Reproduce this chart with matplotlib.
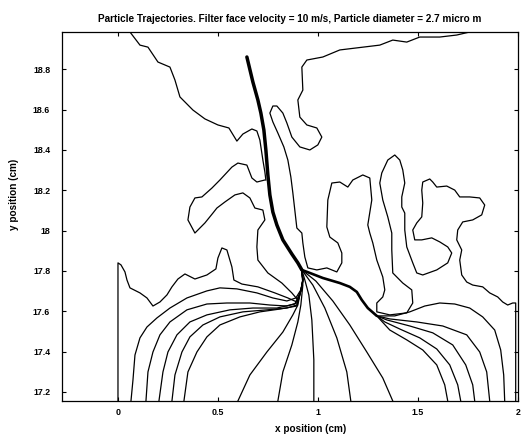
import matplotlib
matplotlib.use("Agg")
import matplotlib.pyplot as plt

plt.rcParams['font.family'] = ['Liberation Sans', 'DejaVu Sans']

# axis ticks
x_ticks = [0, 0.5, 1, 1.5, 2]
x_tick_labels = ['0', '0.5', '1', '1.5', '2']
y_ticks = [17.2, 17.4, 17.6, 17.8, 18.0, 18.2, 18.4, 18.6, 18.8]
y_tick_labels = ['17.2', '17.4', '17.6', '17.8', '18', '18.2', '18.4', '18.6', '18.8']

# fibre / flow contours (cm)
cont_left_x = [0.0, 0.0, 0.015, 0.035, 0.045, 0.06, 0.11, 0.145, 0.175, 0.21, 0.245, 0.27,
               0.30, 0.335, 0.385, 0.445, 0.49, 0.50, 0.52, 0.545, 0.57, 0.58, 0.62, 0.70,
               0.785, 0.85, 0.895]
cont_left_y = [17.155, 17.840, 17.830, 17.795, 17.755, 17.716, 17.691, 17.666, 17.626, 17.646,
               17.681, 17.721, 17.760, 17.785, 17.760, 17.780, 17.810, 17.864, 17.914, 17.904,
               17.820, 17.755, 17.735, 17.721, 17.691, 17.666, 17.646]

cont_top_x = [0.06, 0.11, 0.15, 0.20, 0.26, 0.285, 0.31, 0.375, 0.435, 0.50, 0.555, 0.595,
              0.625, 0.67, 0.695, 0.71, 0.725, 0.735, 0.74]
cont_top_y = [18.985, 18.920, 18.910, 18.836, 18.811, 18.747, 18.663, 18.598, 18.554, 18.524,
              18.509, 18.444, 18.479, 18.504, 18.494, 18.449, 18.350, 18.291, 18.251]

cont_mid_x = [0.735, 0.695, 0.67, 0.645, 0.60, 0.57, 0.51, 0.47, 0.42, 0.385, 0.36, 0.35,
              0.385, 0.435, 0.475, 0.495, 0.535, 0.585, 0.625, 0.66, 0.685, 0.725, 0.735,
              0.70, 0.695, 0.70, 0.75, 0.82, 0.87, 0.90]
cont_mid_y = [18.251, 18.241, 18.261, 18.325, 18.335, 18.315, 18.251, 18.211, 18.167, 18.162,
              18.117, 18.053, 17.988, 18.038, 18.087, 18.112, 18.142, 18.177, 18.187, 18.162,
              18.112, 18.102, 18.053, 18.003, 17.919, 17.854, 17.790, 17.740, 17.691, 17.656]

cont_right_x = [1.76, 1.695, 1.61, 1.51, 1.445, 1.375, 1.31, 1.225, 1.11, 1.025, 0.945, 0.92,
                0.925, 0.90, 0.91, 0.945, 0.995, 1.02, 1.00, 0.96, 0.91, 0.87, 0.845, 0.825,
                0.795, 0.775, 0.76, 0.775, 0.80, 0.83, 0.85, 0.865, 0.875, 0.885, 0.895, 0.92,
                0.925, 0.935, 0.95, 0.995, 1.045, 1.095, 1.12, 1.12, 1.10, 1.06, 1.045, 1.05,
                1.07, 1.11, 1.15, 1.175, 1.225, 1.26, 1.27, 1.25, 1.26, 1.275, 1.295, 1.325,
                1.335, 1.325, 1.295, 1.295, 1.36, 1.445, 1.475, 1.47, 1.425, 1.375, 1.37, 1.37,
                1.35, 1.325, 1.31, 1.32, 1.35, 1.385, 1.41, 1.425, 1.435, 1.42, 1.42, 1.435,
                1.435, 1.445, 1.475, 1.495, 1.525, 1.595, 1.65, 1.67, 1.65, 1.61, 1.57, 1.52,
                1.485, 1.475, 1.495, 1.52, 1.525, 1.52, 1.525, 1.56, 1.575, 1.595, 1.645, 1.685,
                1.71, 1.76, 1.81, 1.835, 1.82, 1.775, 1.725, 1.70, 1.695, 1.72, 1.71, 1.72,
                1.745, 1.775, 1.825, 1.86, 1.90, 1.925, 1.95, 1.975, 1.99, 1.99]
cont_right_y = [18.985, 18.970, 18.960, 18.960, 18.935, 18.945, 18.920, 18.910, 18.896, 18.861,
                18.846, 18.811, 18.697, 18.648, 18.563, 18.524, 18.509, 18.464, 18.425, 18.400,
                18.415, 18.464, 18.534, 18.583, 18.618, 18.618, 18.583, 18.539, 18.484, 18.415,
                18.350, 18.266, 18.187, 18.102, 18.013, 17.988, 17.939, 17.869, 17.815, 17.805,
                17.815, 17.795, 17.840, 17.889, 17.939, 17.968, 18.018, 18.152, 18.236, 18.241,
                18.216, 18.251, 18.276, 18.261, 18.152, 18.028, 17.988, 17.939, 17.854, 17.770,
                17.706, 17.671, 17.641, 17.597, 17.582, 17.592, 17.641, 17.706, 17.740, 17.790,
                17.904, 17.988, 18.068, 18.152, 18.236, 18.286, 18.350, 18.375, 18.350, 18.301,
                18.236, 18.167, 18.117, 18.087, 18.003, 17.919, 17.840, 17.790, 17.780, 17.805,
                17.840, 17.889, 17.919, 17.944, 17.964, 17.954, 17.954, 18.003, 18.038, 18.068,
                18.137, 18.201, 18.241, 18.256, 18.241, 18.216, 18.221, 18.201, 18.167, 18.167,
                18.162, 18.127, 18.078, 18.053, 18.043, 18.003, 17.954, 17.904, 17.854, 17.780,
                17.745, 17.730, 17.721, 17.691, 17.671, 17.646, 17.631, 17.641, 17.641, 17.155]

# particle trajectories: common stem, then branches
stem_x = [0.645, 0.675, 0.70, 0.715, 0.73, 0.74, 0.75, 0.76, 0.775, 0.795, 0.825, 0.87, 0.90, 0.92]
stem_y = [18.861, 18.737, 18.648, 18.583, 18.499, 18.400, 18.276, 18.177, 18.092, 18.028,
          17.954, 17.884, 17.840, 17.805]

bundle_x = [0.92, 0.96, 1.025, 1.11, 1.16, 1.195, 1.22, 1.25, 1.295]
bundle_y = [17.805, 17.790, 17.765, 17.740, 17.721, 17.696, 17.656, 17.616, 17.577]

left_x = [
    [0.92, 0.925, 0.915, 0.89, 0.845, 0.775, 0.695, 0.595, 0.51, 0.445, 0.345, 0.26, 0.195,
     0.145, 0.11, 0.085, 0.075, 0.065],
    [0.92, 0.925, 0.915, 0.895, 0.845, 0.76, 0.66, 0.545, 0.445, 0.345, 0.26, 0.21, 0.175,
     0.15, 0.14],
    [0.92, 0.925, 0.915, 0.885, 0.795, 0.675, 0.56, 0.445, 0.36, 0.295, 0.25, 0.225, 0.205],
    [0.92, 0.925, 0.915, 0.895, 0.845, 0.745, 0.625, 0.51, 0.425, 0.36, 0.32, 0.285, 0.27],
    [0.92, 0.925, 0.915, 0.895, 0.81, 0.71, 0.61, 0.51, 0.445, 0.395, 0.35, 0.33],
    [0.92, 0.925, 0.91, 0.90, 0.875, 0.825, 0.745, 0.66, 0.60],
    [0.92, 0.925, 0.915, 0.90, 0.87, 0.825, 0.80],
]
left_y = [
    [17.805, 17.755, 17.706, 17.666, 17.651, 17.666, 17.691, 17.711, 17.716, 17.701, 17.666,
     17.616, 17.567, 17.522, 17.468, 17.383, 17.259, 17.155],
    [17.805, 17.755, 17.701, 17.641, 17.626, 17.631, 17.641, 17.641, 17.636, 17.607, 17.547,
     17.483, 17.398, 17.299, 17.155],
    [17.805, 17.755, 17.701, 17.636, 17.616, 17.616, 17.607, 17.582, 17.547, 17.483, 17.398,
     17.299, 17.155],
    [17.805, 17.755, 17.701, 17.631, 17.616, 17.607, 17.597, 17.572, 17.532, 17.473, 17.398,
     17.284, 17.155],
    [17.805, 17.755, 17.701, 17.626, 17.611, 17.597, 17.572, 17.532, 17.473, 17.398, 17.299,
     17.155],
    [17.805, 17.745, 17.681, 17.631, 17.582, 17.497, 17.398, 17.284, 17.155],
    [17.805, 17.730, 17.631, 17.547, 17.433, 17.299, 17.155],
]

centre_x = [
    [0.92, 0.935, 0.955, 0.97, 0.98, 0.98],
    [0.92, 0.975, 1.035, 1.095, 1.145, 1.165],
    [0.92, 0.99, 1.075, 1.16, 1.245, 1.325, 1.375],
]
centre_y = [
    [17.805, 17.755, 17.681, 17.557, 17.359, 17.155],
    [17.805, 17.730, 17.616, 17.468, 17.299, 17.155],
    [17.805, 17.750, 17.651, 17.532, 17.398, 17.269, 17.155],
]

right_x = [
    [1.295, 1.36, 1.445, 1.525, 1.595, 1.635, 1.65],
    [1.295, 1.335, 1.41, 1.51, 1.595, 1.66, 1.70, 1.715],
    [1.295, 1.345, 1.46, 1.575, 1.675, 1.74, 1.775, 1.785],
    [1.295, 1.36, 1.495, 1.625, 1.745, 1.81, 1.845, 1.86],
    [1.295, 1.385, 1.46, 1.535, 1.61, 1.685, 1.76, 1.825, 1.885, 1.915, 1.93, 1.935],
]
right_y = [
    [17.577, 17.507, 17.458, 17.408, 17.334, 17.235, 17.155],
    [17.577, 17.547, 17.512, 17.468, 17.413, 17.334, 17.235, 17.155],
    [17.577, 17.557, 17.527, 17.493, 17.433, 17.334, 17.235, 17.155],
    [17.577, 17.562, 17.547, 17.527, 17.483, 17.398, 17.299, 17.155],
    [17.577, 17.577, 17.597, 17.626, 17.641, 17.636, 17.616, 17.572, 17.507, 17.408, 17.284,
     17.155],
]

fig = plt.figure(figsize=(5.26, 4.36), dpi=100)
ax = fig.add_axes([0.1179, 0.0803, 0.8663, 0.8463])

lw = 0.9
for cx, cy in [(cont_left_x, cont_left_y), (cont_top_x, cont_top_y),
               (cont_mid_x, cont_mid_y), (cont_right_x, cont_right_y)]:
    ax.plot(cx, cy, color='black', lw=lw)

for xs, ys in zip(left_x + centre_x + right_x, left_y + centre_y + right_y):
    ax.plot(xs, ys, color='black', lw=lw)

ax.plot(bundle_x, bundle_y, color='black', lw=1.9, solid_capstyle='round')
ax.plot(stem_x, stem_y, color='black', lw=2.5, solid_capstyle='round')

ax.set_xlim(-0.28, 2.0)
ax.set_ylim(17.155, 18.985)
ax.set_xticks(x_ticks)
ax.set_xticklabels(x_tick_labels)
ax.set_yticks(y_ticks)
ax.set_yticklabels(y_tick_labels)
ax.tick_params(axis='both', direction='in', length=3, width=0.8, labelsize=6.4,
               top=True, right=True)
ax.tick_params(axis='x', pad=5)
ax.tick_params(axis='y', pad=8.5)
for lab in ax.get_xticklabels() + ax.get_yticklabels():
    lab.set_fontweight('bold')
for s in ax.spines.values():
    s.set_linewidth(0.9)

ax.set_title('Particle Trajectories. Filter face velocity = 10 m/s, Particle diameter = 2.7 micro m',
             fontsize=7.2, fontweight='bold', pad=7)
ax.set_xlabel('x position (cm)', fontsize=7.2, fontweight='bold')
ax.set_ylabel('y position (cm)', fontsize=7.2, fontweight='bold')
ax.xaxis.set_label_coords(0.546, -0.062)
ax.yaxis.set_label_coords(-0.094, 0.561)

fig.savefig('out.png', dpi=100)
